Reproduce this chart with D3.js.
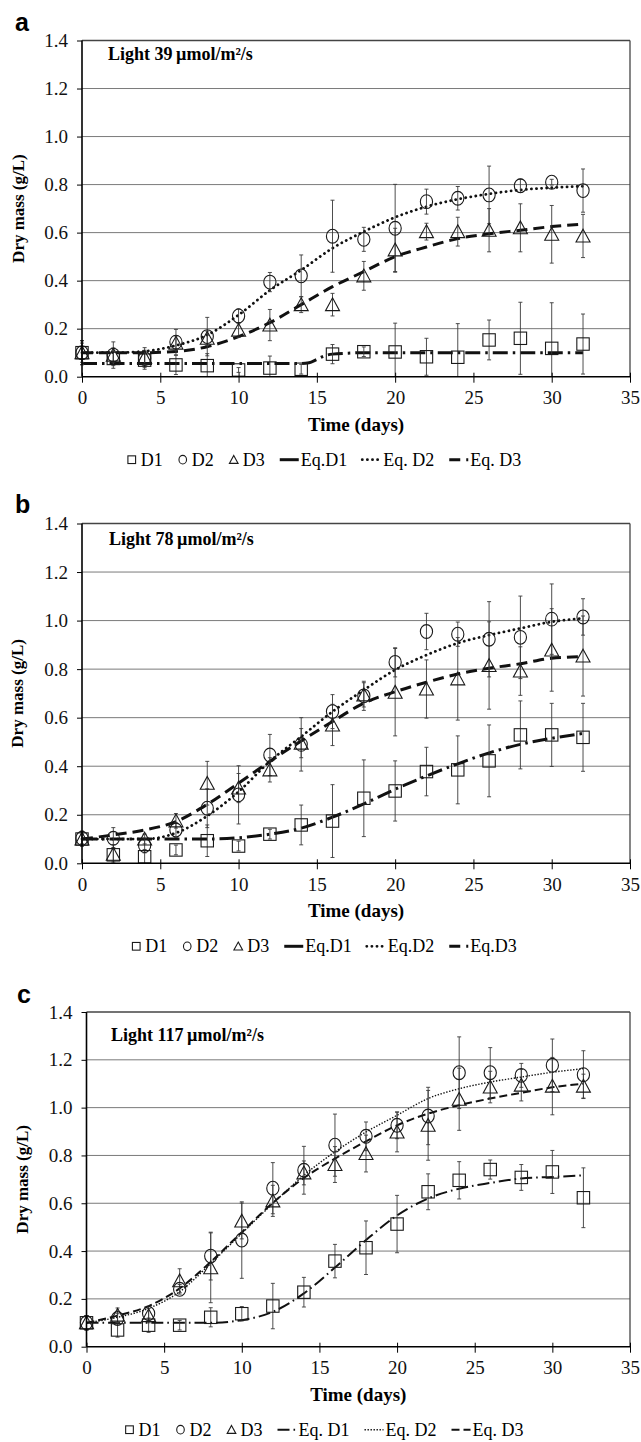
<!DOCTYPE html>
<html>
<head>
<meta charset="utf-8">
<script src="https://cdn.jsdelivr.net/npm/d3@7"></script>
<style>
  body { margin: 0; background: #fff; }
  svg { display: block; }
  svg text { font-family: "Liberation Serif", "Times New Roman", Times, serif; }
  svg text.sans { font-family: "Liberation Sans", Arial, sans-serif; }
</style>
</head>
<body>
<div id="chart"></div>
<script>
// ---- data ----
const days = [0, 2, 4, 6, 8, 10, 12, 14, 16, 18, 20, 22, 24, 26, 28, 30, 32];
const xTicks = [0, 5, 10, 15, 20, 25, 30, 35];
const yTicks = [0, 0.2, 0.4, 0.6, 0.8, 1.0, 1.2, 1.4];

// panel a : light 39
const aD1 = [0.10, 0.076, 0.069, 0.049, 0.046, 0.028, 0.036, 0.031, 0.094, 0.104, 0.103, 0.083, 0.081, 0.153, 0.160, 0.118, 0.136];
const aD1Err = [0.05, 0.03, 0.03, 0.04, 0.05, 0.01, 0.05, 0.02, 0.04, 0.02, 0.12, 0.077, 0.14, 0.083, 0.15, 0.19, 0.125];
const aD2 = [0.10, 0.09, 0.076, 0.144, 0.167, 0.253, 0.394, 0.42, 0.585, 0.572, 0.618, 0.729, 0.743, 0.757, 0.795, 0.81, 0.775];
const aD2Err = [0.05, 0.055, 0.045, 0.053, 0.08, 0.03, 0.04, 0.087, 0.15, 0.05, 0.183, 0.052, 0.049, 0.12, 0.028, 0.012, 0.09];
const aD3 = [0.10, 0.09, 0.08, 0.14, 0.16, 0.194, 0.215, 0.30, 0.30, 0.42, 0.528, 0.604, 0.604, 0.61, 0.62, 0.593, 0.586];
const aD3Err = [0.04, 0.03, 0.03, 0.03, 0.03, 0.03, 0.065, 0.033, 0.047, 0.06, 0.09, 0.035, 0.06, 0.09, 0.1, 0.12, 0.09];
const eqA1 = [[0, 0.055], [2, 0.055], [4, 0.055], [6, 0.055], [8, 0.055], [10, 0.055], [12, 0.055], [14, 0.055], [14.5, 0.058], [15, 0.072], [15.5, 0.087], [16, 0.094], [17, 0.098], [18, 0.10], [20, 0.10], [22, 0.10], [24, 0.10], [26, 0.10], [28, 0.10], [30, 0.10], [32, 0.10]];
const eqA2 = [[0, 0.10], [2, 0.10], [4, 0.106], [6, 0.13], [8, 0.174], [10, 0.257], [12, 0.36], [14, 0.444], [16, 0.535], [18, 0.604], [20, 0.664], [22, 0.708], [24, 0.739], [26, 0.761], [28, 0.778], [30, 0.787], [32, 0.793]];
const eqA3 = [[0, 0.10], [2, 0.10], [4, 0.10], [6, 0.105], [8, 0.125], [10, 0.167], [12, 0.225], [14, 0.30], [16, 0.375], [18, 0.4375], [20, 0.50], [22, 0.54], [24, 0.575], [26, 0.595], [28, 0.61], [30, 0.625], [32, 0.635]];

// panel b : light 78
const bD1 = [0.10, 0.035, 0.027, 0.055, 0.093, 0.071, 0.12, 0.158, 0.174, 0.268, 0.298, 0.378, 0.385, 0.422, 0.529, 0.529, 0.519];
const bD1Err = [0.02, 0.03, 0.03, 0.02, 0.065, 0.02, 0.02, 0.082, 0.15, 0.158, 0.124, 0.1, 0.14, 0.148, 0.14, 0.13, 0.14];
const bD2 = [0.103, 0.103, 0.073, 0.137, 0.227, 0.282, 0.446, 0.49, 0.625, 0.69, 0.828, 0.955, 0.944, 0.923, 0.931, 1.006, 1.015];
const bD2Err = [0.03, 0.044, 0.03, 0.03, 0.08, 0.12, 0.085, 0.11, 0.07, 0.06, 0.06, 0.075, 0.05, 0.155, 0.17, 0.145, 0.075];
const bD3 = [0.10, 0.037, 0.10, 0.175, 0.33, 0.31, 0.385, 0.495, 0.57, 0.694, 0.705, 0.718, 0.76, 0.815, 0.792, 0.879, 0.854];
const bD3Err = [0.03, 0.04, 0.02, 0.03, 0.09, 0.06, 0.05, 0.06, 0.085, 0.05, 0.18, 0.12, 0.17, 0.18, 0.1, 0.17, 0.165];
const eqB1 = [[0, 0.10], [2, 0.10], [4, 0.10], [6, 0.10], [8, 0.10], [10, 0.105], [12, 0.12], [14, 0.145], [16, 0.19], [18, 0.245], [20, 0.305], [22, 0.36], [24, 0.41], [26, 0.455], [28, 0.49], [30, 0.515], [32, 0.535]];
const eqB2 = [[0, 0.10], [2, 0.10], [4, 0.10], [6, 0.125], [8, 0.195], [10, 0.295], [12, 0.42], [14, 0.522], [16, 0.625], [18, 0.714], [20, 0.797], [22, 0.858], [24, 0.907], [26, 0.94], [28, 0.968], [30, 0.995], [32, 1.009]];
const eqB3 = [[0, 0.10], [2, 0.117], [4, 0.137], [6, 0.172], [8, 0.243], [10, 0.33], [12, 0.42], [14, 0.504], [16, 0.584], [18, 0.66], [20, 0.707], [22, 0.746], [24, 0.78], [26, 0.804], [28, 0.822], [30, 0.845], [32, 0.851]];

// panel c : light 117
const cD1 = [0.10, 0.07, 0.09, 0.09, 0.123, 0.138, 0.17, 0.228, 0.358, 0.414, 0.513, 0.648, 0.696, 0.741, 0.708, 0.731, 0.623];
const cD1Err = [0.03, 0.03, 0.03, 0.02, 0.04, 0.03, 0.095, 0.062, 0.07, 0.112, 0.12, 0.075, 0.078, 0.04, 0.054, 0.09, 0.125];
const cD2 = [0.10, 0.118, 0.139, 0.24, 0.379, 0.446, 0.663, 0.738, 0.843, 0.88, 0.926, 0.965, 1.146, 1.146, 1.135, 1.177, 1.138];
const cD2Err = [0.03, 0.02, 0.03, 0.02, 0.1, 0.16, 0.107, 0.1, 0.13, 0.06, 0.056, 0.12, 0.15, 0.105, 0.05, 0.11, 0.1];
const cD3 = [0.10, 0.132, 0.13, 0.276, 0.33, 0.526, 0.61, 0.727, 0.762, 0.808, 0.898, 0.926, 1.035, 1.086, 1.094, 1.09, 1.09];
const cD3Err = [0.03, 0.03, 0.03, 0.05, 0.146, 0.075, 0.065, 0.05, 0.075, 0.077, 0.083, 0.146, 0.13, 0.066, 0.066, 0.12, 0.05];
const eqC1 = [[0, 0.10], [2, 0.10], [4, 0.10], [6, 0.10], [8, 0.10], [10, 0.111], [12, 0.146], [14, 0.223], [16, 0.331], [18, 0.446], [20, 0.549], [22, 0.62], [24, 0.661], [26, 0.685], [28, 0.704], [30, 0.71], [32, 0.717]];
const eqC2 = [[0, 0.10], [2, 0.123], [4, 0.16], [6, 0.23], [8, 0.348], [10, 0.474], [12, 0.599], [14, 0.717], [16, 0.815], [18, 0.898], [20, 0.968], [22, 1.038], [24, 1.079], [26, 1.107], [28, 1.128], [30, 1.148], [32, 1.163]];
const eqC3 = [[0, 0.10], [2, 0.13], [4, 0.17], [6, 0.244], [8, 0.355], [10, 0.479], [12, 0.602], [14, 0.706], [16, 0.787], [18, 0.859], [20, 0.926], [22, 0.975], [24, 1.01], [26, 1.038], [28, 1.062], [30, 1.085], [32, 1.10]];

// ---- drawing ----
const W = 641, H = 1442;
const serifFont = "Liberation Serif";
const sansFont = "Liberation Sans";

const svg = d3.select("#chart").append("svg")
    .attr("width", W)
    .attr("height", H)
    .attr("font-family", serifFont)
    .style("background", "#fff");

const panels = [
    {
        letter: "a", light: "39", left: 82, right: 630, top: 40.5, bottom: 376.7,
        letterPos: [15, 31], titleX: 18, annotX: 108, annotY: 60,
        D1: aD1, D1Err: aD1Err, D2: aD2, D2Err: aD2Err, D3: aD3, D3Err: aD3Err,
        eq: [eqA1, eqA2, eqA3],
        styles: [
            { w: 3, dash: "15,5,2.5,5", cap: "butt" },
            { w: 2.8, dash: "0.1,5", cap: "round" },
            { w: 3, dash: "11,6", cap: "butt" }
        ],
        labels: ["D1", "D2", "D3", "Eq.D1", "Eq. D2", "Eq. D3"],
        eq1Legend: "solid"
    },
    {
        letter: "b", light: "78", left: 82, right: 630, top: 523.5, bottom: 863.3,
        letterPos: [15, 513], titleX: 17, annotX: 109, annotY: 545,
        D1: bD1, D1Err: bD1Err, D2: bD2, D2Err: bD2Err, D3: bD3, D3Err: bD3Err,
        eq: [eqB1, eqB2, eqB3],
        styles: [
            { w: 3, dash: "15,5,2.5,5", cap: "butt" },
            { w: 2.8, dash: "0.1,5", cap: "round" },
            { w: 3, dash: "11,6", cap: "butt" }
        ],
        labels: ["D1", "D2", "D3", "Eq.D1", "Eq.D2", "Eq.D3"],
        eq1Legend: "solid"
    },
    {
        letter: "c", light: "117", left: 86.5, right: 630, top: 1012, bottom: 1346.7,
        letterPos: [17, 1003], titleX: 22, annotX: 111, annotY: 1041,
        D1: cD1, D1Err: cD1Err, D2: cD2, D2Err: cD2Err, D3: cD3, D3Err: cD3Err,
        eq: [eqC1, eqC2, eqC3],
        styles: [
            { w: 2, dash: "12,4,1.6,4", cap: "butt" },
            { w: 1.4, dash: "1.4,1.6", cap: "butt" },
            { w: 2, dash: "8,4", cap: "butt" }
        ],
        labels: ["D1", "D2", "D3", "Eq. D1", "Eq. D2", "Eq. D3"],
        eq1Legend: "dashdot"
    }
];

// marker shapes, centred on (x,y)
function drawMarker(g, type, x, y, s) {
    s = s || 1;
    if (type === "square") {
        g.append("rect")
            .attr("x", x - 6.2 * s).attr("y", y - 6.2 * s)
            .attr("width", 12.4 * s).attr("height", 12.4 * s)
            .attr("fill", "none").attr("stroke", "#1a1a1a").attr("stroke-width", 1.1);
    } else if (type === "circle") {
        g.append("ellipse")
            .attr("cx", x).attr("cy", y)
            .attr("rx", 6.1 * s).attr("ry", 6.9 * s)
            .attr("fill", "none").attr("stroke", "#1a1a1a").attr("stroke-width", 1.1);
    } else {
        const p = [[0, -6.8], [7, 6], [-7, 6]].map(d => [x + d[0] * s, y + d[1] * s]);
        g.append("path")
            .attr("d", "M" + p.join("L") + "Z")
            .attr("fill", "none").attr("stroke", "#1a1a1a").attr("stroke-width", 1.1);
    }
}

panels.forEach(p => {
    const x = d3.scaleLinear().domain([0, 35]).range([p.left, p.right]);
    const y = d3.scaleLinear().domain([0, 1.4]).range([p.bottom, p.top]);
    const g = svg.append("g");

    // gridlines
    g.append("g")
        .selectAll("line")
        .data(yTicks.filter(t => t > 0))
        .join("line")
        .attr("x1", p.left).attr("x2", p.right)
        .attr("y1", d => y(d)).attr("y2", d => y(d))
        .attr("stroke", d => d === 1.4 ? "#444" : "#7a7a7a")
        .attr("stroke-width", d => d === 1.4 ? 1.3 : 1);

    // right border
    g.append("line")
        .attr("x1", p.right).attr("x2", p.right)
        .attr("y1", p.top).attr("y2", p.bottom)
        .attr("stroke", "#444").attr("stroke-width", 1.3);

    // fitted curves
    const line = d3.line()
        .x(d => x(d[0]))
        .y(d => y(d[1]))
        .curve(d3.curveMonotoneX);
    p.eq.forEach((curve, i) => {
        const st = p.styles[i];
        g.append("path")
            .datum(curve)
            .attr("fill", "none")
            .attr("stroke", "#111")
            .attr("stroke-width", st.w)
            .attr("stroke-dasharray", st.dash)
            .attr("stroke-linecap", st.cap)
            .attr("d", line);
    });

    // error bars and markers
    const series = [
        { vals: p.D1, errs: p.D1Err, type: "square" },
        { vals: p.D2, errs: p.D2Err, type: "circle" },
        { vals: p.D3, errs: p.D3Err, type: "triangle" }
    ];
    const eb = g.append("g").attr("stroke", "#3a3a3a").attr("stroke-width", 0.9);
    series.forEach(s => {
        s.vals.forEach((v, i) => {
            const cx = x(days[i]);
            const lo = Math.max(0, v - s.errs[i]);
            const hi = Math.min(1.4, v + s.errs[i]);
            eb.append("line").attr("x1", cx).attr("x2", cx).attr("y1", y(lo)).attr("y2", y(hi));
            eb.append("line").attr("x1", cx - 2).attr("x2", cx + 2).attr("y1", y(hi)).attr("y2", y(hi));
            if (v - s.errs[i] > 0) {
                eb.append("line").attr("x1", cx - 2).attr("x2", cx + 2).attr("y1", y(lo)).attr("y2", y(lo));
            }
        });
    });
    const mk = g.append("g");
    series.forEach(s => {
        s.vals.forEach((v, i) => drawMarker(mk, s.type, x(days[i]), y(v)));
    });

    // axes
    const xAxis = g.append("g")
        .attr("transform", `translate(0,${p.bottom})`)
        .call(d3.axisBottom(x).tickValues(xTicks).tickSize(6).tickPadding(8).tickFormat(d3.format("d")));
    xAxis.attr("font-family", serifFont).attr("font-size", 19);
    xAxis.select(".domain").attr("stroke", "#000").attr("stroke-width", 1.6).attr("d", `M${p.left},0H${p.right}`);
    xAxis.selectAll(".tick line").attr("stroke", "#000").attr("stroke-width", 1).attr("y1", -4);
    xAxis.selectAll(".tick text").attr("fill", "#111");

    const yAxis = g.append("g")
        .attr("transform", `translate(${p.left},0)`)
        .call(d3.axisLeft(y).tickValues(yTicks).tickSize(5).tickPadding(9).tickFormat(d3.format(".1f")));
    yAxis.attr("font-family", serifFont).attr("font-size", 19);
    yAxis.select(".domain").attr("stroke", "#000").attr("stroke-width", 1.6).attr("d", `M0,${p.top}V${p.bottom}`);
    yAxis.selectAll(".tick line").attr("stroke", "#000").attr("stroke-width", 1);
    yAxis.selectAll(".tick text").attr("fill", "#111");

    // titles
    g.append("text")
        .attr("class", "sans")
        .attr("x", p.letterPos[0]).attr("y", p.letterPos[1])
        .attr("font-family", sansFont)
        .attr("font-size", 25).attr("font-weight", "bold")
        .text(p.letter);

    g.append("text")
        .attr("x", p.annotX).attr("y", p.annotY)
        .attr("font-family", serifFont)
        .attr("font-size", 18).attr("font-weight", "bold")
        .text(`Light ${p.light}\u2009µmol/m²/s`);

    g.append("text")
        .attr("transform", `translate(${p.titleX},${(p.top + p.bottom) / 2}) rotate(-90)`)
        .attr("text-anchor", "middle")
        .attr("dy", "0.35em")
        .attr("font-family", serifFont)
        .attr("font-size", 17).attr("font-weight", "bold")
        .text("Dry mass (g/L)");

    g.append("text")
        .attr("x", (p.left + p.right) / 2).attr("y", p.bottom + 54)
        .attr("text-anchor", "middle")
        .attr("font-family", serifFont)
        .attr("font-size", 19).attr("font-weight", "bold")
        .text("Time (days)");

    // legend
    const legend = g.append("g");
    const ly = p.bottom + 89;
    let cx = 0;
    const kinds = ["square", "circle", "triangle", "eq1", "eq2", "eq3"];
    kinds.forEach((kind, i) => {
        const symY = ly - 6;
        if (i < 3) {
            drawMarker(legend, kind, cx + 5, symY, 0.62);
            cx += 14;
        } else {
            const st = p.styles[i - 3];
            let dash = st.dash;
            if (i === 3 && p.eq1Legend === "solid") dash = null;
            legend.append("line")
                .attr("x1", cx).attr("x2", cx + 19)
                .attr("y1", symY).attr("y2", symY)
                .attr("stroke", "#111").attr("stroke-width", st.w)
                .attr("stroke-dasharray", dash)
                .attr("stroke-linecap", st.cap);
            cx += 21;
        }
        const t = legend.append("text")
            .attr("x", cx).attr("y", ly)
            .attr("font-family", serifFont)
            .attr("font-size", 18)
            .text(p.labels[i]);
        cx += t.node().getComputedTextLength() + 15;
    });
    const lw = cx - 15;
    legend.attr("transform", `translate(${324 - lw / 2},0)`);
});
</script>
</body>
</html>
